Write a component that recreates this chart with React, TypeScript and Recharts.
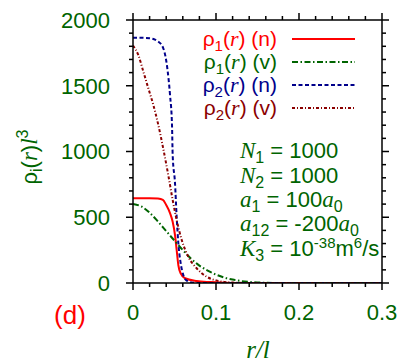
import React from 'react';
import { LineChart, Line, XAxis, YAxis, Legend } from 'recharts';

// ---------------------------------------------------------------------------
// Data
// ---------------------------------------------------------------------------

const xMajorTicks = [0, 0.1, 0.2, 0.3];
const xMinorTicks = [0.02, 0.04, 0.06, 0.08, 0.12, 0.14, 0.16, 0.18, 0.22, 0.24, 0.26, 0.28];
const yMajorTicks = [0, 500, 1000, 1500, 2000];
const yMinorTicks = [100, 200, 300, 400, 600, 700, 800, 900, 1100, 1200, 1300, 1400, 1600, 1700, 1800, 1900];

// rho_1(r) (n)
const rho1nR = [0, 0.02, 0.03, 0.036, 0.04, 0.0446, 0.0478, 0.0506, 0.0526, 0.0546, 0.0574, 0.0627, 0.0767, 0.0928, 0.11, 0.13, 0.3];
const rho1nV = [645, 645, 642, 632, 593, 532, 466, 365, 251, 137, 74, 36, 15, 7, 2, 0, 0];

// rho_1(r) (v)
const rho1vR = [0, 0.01, 0.02, 0.03, 0.04, 0.05, 0.06, 0.07, 0.08, 0.09, 0.1, 0.11, 0.12, 0.13, 0.14, 0.16, 0.18, 0.3];
const rho1vV = [600, 582, 535, 468, 395, 322, 250, 185, 132, 94, 64, 41, 26, 15, 8, 2, 0, 0];

// rho_2(r) (n)
const rho2nR = [0, 0.01, 0.02, 0.026, 0.03, 0.0365, 0.0413, 0.0446, 0.047, 0.0478, 0.0506, 0.0526, 0.0546, 0.0574, 0.0606, 0.0627, 0.067, 0.072, 0.08, 0.3];
const rho2nV = [1865, 1865, 1862, 1852, 1838, 1785, 1635, 1430, 1200, 973, 760, 504, 304, 152, 61, 30, 10, 2, 0, 0];

// rho_2(r) (v)
const rho2vR = [0, 0.0064, 0.0125, 0.0185, 0.0245, 0.0305, 0.0365, 0.0425, 0.0478, 0.0526, 0.0587, 0.0666, 0.0767, 0.0887, 0.1, 0.11, 0.12, 0.14, 0.3];
const rho2vV = [1805, 1734, 1607, 1480, 1354, 1202, 1020, 821, 631, 479, 327, 200, 112, 48, 20, 8, 3, 0, 0];

const zip = (r: number[], v: number[]) => r.map((x, i) => ({ r: x, v: v[i] }));

// both axis pairs share the same fixed domains
const series = [
  { key: 'rho1n', sub: '1', tag: 'n', color: '#ff0000', dash: undefined, xId: 'b', yId: 'l', data: zip(rho1nR, rho1nV) },
  { key: 'rho1v', sub: '1', tag: 'v', color: '#006400', dash: '6 2.5 1.5 2.5', xId: 't', yId: 'r', data: zip(rho1vR, rho1vV) },
  { key: 'rho2n', sub: '2', tag: 'n', color: '#00008b', dash: '4 2.5', xId: 'b', yId: 'l', data: zip(rho2nR, rho2nV) },
  { key: 'rho2v', sub: '2', tag: 'v', color: '#8b0000', dash: '3 2 1 2', xId: 't', yId: 'r', data: zip(rho2vR, rho2vV) },
];

const SANS = "'Liberation Sans', Arial, sans-serif";
const SERIF = "'Liberation Serif', 'Times New Roman', serif";
const GREEN = '#006400';

const xTicks = [...xMajorTicks, ...xMinorTicks];
const yTicks = [...yMajorTicks, ...yMinorTicks];
const isMajorX = (v: number) => xMajorTicks.some((m) => Math.abs(m - v) < 1e-9);
const isMajorY = (v: number) => yMajorTicks.includes(v);

// tick geometry (outward ticks, gnuplot style)
const TICK = 7;
const MAJOR = 7;
const MINOR = 4;
const MARGIN_B = 14;
const MARGIN_L = 16;

// ---------------------------------------------------------------------------
// Custom ticks: line (major / minor length) plus optional label
// ---------------------------------------------------------------------------

// eslint-disable-next-line @typescript-eslint/no-explicit-any
const BottomTick = ({ x, y, payload }: any) => {
  const major = isMajorX(payload.value);
  const ay = y - TICK - MARGIN_B;
  return (
    <g>
      <line x1={x} x2={x} y1={ay} y2={ay + (major ? MAJOR : MINOR)} stroke="#000" strokeWidth={1.5} />
      {major && (
        <text x={x} y={y} dy="0.71em" textAnchor="middle" fontFamily={SANS} fontSize={22} fill={GREEN}>
          {String(payload.value)}
        </text>
      )}
    </g>
  );
};

// eslint-disable-next-line @typescript-eslint/no-explicit-any
const TopTick = ({ x, y, payload }: any) => {
  const ay = y + TICK;
  return <line x1={x} x2={x} y1={ay} y2={ay - (isMajorX(payload.value) ? MAJOR : MINOR)} stroke="#000" strokeWidth={1.5} />;
};

// eslint-disable-next-line @typescript-eslint/no-explicit-any
const LeftTick = ({ x, y, payload }: any) => {
  const major = isMajorY(payload.value);
  const ax = x + TICK + MARGIN_L;
  return (
    <g>
      <line x1={ax} x2={ax - (major ? MAJOR : MINOR)} y1={y} y2={y} stroke="#000" strokeWidth={1.5} />
      {major && (
        <text x={x} y={y} dy="0.355em" textAnchor="end" fontFamily={SANS} fontSize={22} fill={GREEN}>
          {payload.value}
        </text>
      )}
    </g>
  );
};

// eslint-disable-next-line @typescript-eslint/no-explicit-any
const RightTick = ({ x, y, payload }: any) => {
  const ax = x - TICK;
  return <line x1={ax} x2={ax + (isMajorY(payload.value) ? MAJOR : MINOR)} y1={y} y2={y} stroke="#000" strokeWidth={1.5} />;
};

// ---------------------------------------------------------------------------
// Legend
// ---------------------------------------------------------------------------

function LegendBox() {
  return (
    <svg width={180} height={100} style={{ display: 'block' }}>
      {series.map((s, i) => (
        <g key={s.key}>
          <text x={87} y={20.7 + 23 * i} textAnchor="end" fontFamily={SANS} fontSize={21} fill={s.color}>
            ρ<tspan fontSize={15} dy={5}>{s.sub}</tspan>
            <tspan dy={-5}>(</tspan>
            <tspan fontFamily={SERIF} fontStyle="italic" fontSize={22}>r</tspan>
            <tspan>) ({s.tag})</tspan>
          </text>
          <line x1={102} x2={165} y1={14 + 23 * i} y2={14 + 23 * i} stroke={s.color} strokeWidth={2} strokeDasharray={s.dash} />
        </g>
      ))}
    </svg>
  );
}

// ---------------------------------------------------------------------------
// Chart
// ---------------------------------------------------------------------------

const axisLine = { stroke: '#000', strokeWidth: 1.5 };

export default function App() {
  return (
    <div style={{ position: 'absolute', left: 0, top: 0 }}>
      <LineChart width={399} height={364} margin={{ top: 10, right: 7, bottom: 41, left: 73 }}>
        <XAxis xAxisId="b" orientation="bottom" type="number" dataKey="r" domain={[0, 0.3]} ticks={xTicks}
          allowDataOverflow interval={0} height={40} tickSize={TICK} tickMargin={MARGIN_B}
          tick={<BottomTick />} tickLine={false} axisLine={axisLine} />
        <XAxis xAxisId="t" orientation="top" type="number" dataKey="r" domain={[0, 0.3]} ticks={xTicks}
          allowDataOverflow interval={0} height={10} tickSize={TICK} tickMargin={0}
          tick={<TopTick />} tickLine={false} axisLine={axisLine} />
        <YAxis yAxisId="l" orientation="left" type="number" domain={[0, 2000]} ticks={yTicks}
          allowDataOverflow interval={0} width={60} tickSize={TICK} tickMargin={MARGIN_L}
          tick={<LeftTick />} tickLine={false} axisLine={axisLine} />
        <YAxis yAxisId="r" orientation="right" type="number" domain={[0, 2000]} ticks={yTicks}
          allowDataOverflow interval={0} width={10} tickSize={TICK} tickMargin={0}
          tick={<RightTick />} tickLine={false} axisLine={axisLine} />

        <Legend layout="vertical" align="center" verticalAlign="middle"
          wrapperStyle={{ left: 190, top: 25, width: 180, height: 100 }} content={() => <LegendBox />} />

        {series.map((s) => (
          <Line key={s.key} xAxisId={s.xId} yAxisId={s.yId} data={s.data} dataKey="v" type="monotone"
            stroke={s.color} strokeWidth={2} strokeDasharray={s.dash} dot={false} activeDot={false}
            isAnimationActive={false} legendType="none" />
        ))}

        {/* y axis title */}
        <text transform="translate(37,157) rotate(-90)" textAnchor="middle" fontFamily={SANS} fontSize={22} fill={GREEN}>
          ρ<tspan fontSize={16} dy={5}>i</tspan>
          <tspan dy={-5}>(</tspan>
          <tspan fontFamily={SERIF} fontStyle="italic" fontSize={23}>r</tspan>
          <tspan>)</tspan>
          <tspan fontFamily={SERIF} fontStyle="italic" fontSize={23}>l</tspan>
          <tspan fontSize={16} dy={-9}>3</tspan>
        </text>

        {/* x axis title */}
        <text x={258} y={358} textAnchor="middle" fontFamily={SERIF} fontStyle="italic" fontSize={25} fill={GREEN}>r/l</text>

        {/* panel label */}
        <text x={70} y={324} textAnchor="middle" fontFamily={SANS} fontSize={26} fill="#ff0000">(d)</text>

        {/* parameters */}
        <g fontFamily={SANS} fontSize={22} fill={GREEN}>
          <text x={240} y={158}>
            <tspan fontFamily={SERIF} fontStyle="italic" fontSize={23}>N</tspan>
            <tspan fontSize={16} dy={5}>1</tspan>
            <tspan dy={-5}> = 1000</tspan>
          </text>
          <text x={240} y={182.5}>
            <tspan fontFamily={SERIF} fontStyle="italic" fontSize={23}>N</tspan>
            <tspan fontSize={16} dy={5}>2</tspan>
            <tspan dy={-5}> = 1000</tspan>
          </text>
          <text x={240} y={207}>
            <tspan fontFamily={SERIF} fontStyle="italic" fontSize={23}>a</tspan>
            <tspan fontSize={16} dy={5}>1</tspan>
            <tspan dy={-5}> = 100</tspan>
            <tspan fontFamily={SERIF} fontStyle="italic" fontSize={23}>a</tspan>
            <tspan fontSize={16} dy={5}>0</tspan>
          </text>
          <text x={240} y={231}>
            <tspan fontFamily={SERIF} fontStyle="italic" fontSize={23}>a</tspan>
            <tspan fontSize={16} dy={5}>12</tspan>
            <tspan dy={-5}> = -200</tspan>
            <tspan fontFamily={SERIF} fontStyle="italic" fontSize={23}>a</tspan>
            <tspan fontSize={16} dy={5}>0</tspan>
          </text>
          <text x={240} y={256}>
            <tspan fontFamily={SERIF} fontStyle="italic" fontSize={23}>K</tspan>
            <tspan fontSize={16} dy={5}>3</tspan>
            <tspan dy={-5}> = 10</tspan>
            <tspan fontSize={15} dy={-8}>-38</tspan>
            <tspan dy={8}>m</tspan>
            <tspan fontSize={15} dy={-8}>6</tspan>
            <tspan dy={8}>/s</tspan>
          </text>
        </g>
      </LineChart>
    </div>
  );
}
